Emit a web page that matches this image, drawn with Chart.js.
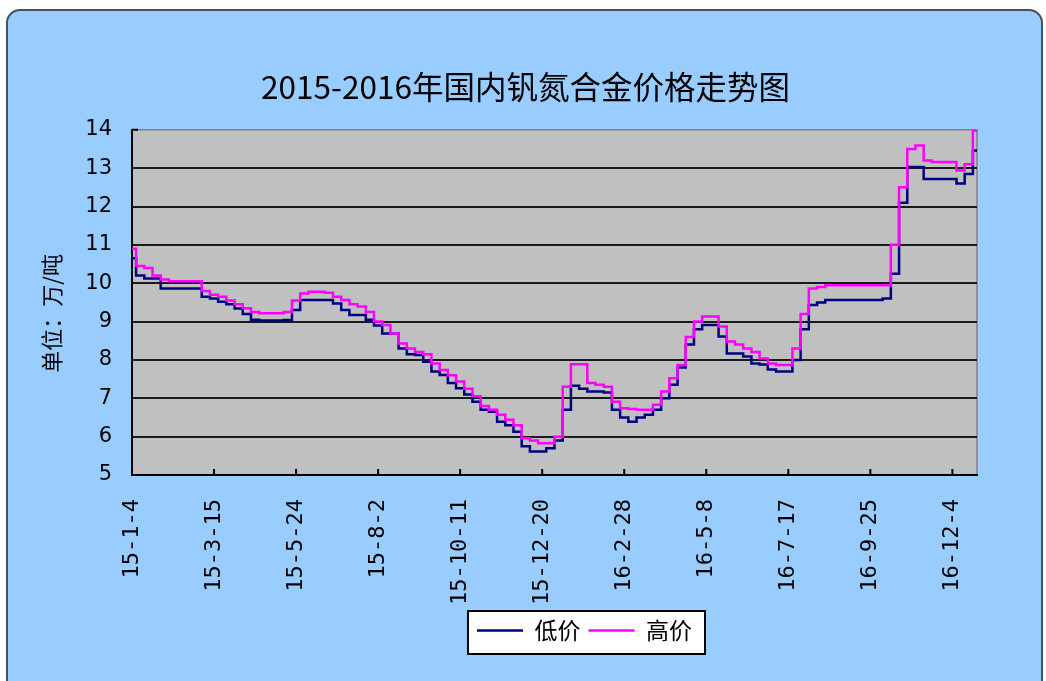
<!DOCTYPE html>
<html>
<head>
<meta charset="utf-8">
<script src="https://cdn.jsdelivr.net/npm/chart.js@4.4.1/dist/chart.umd.min.js"></script>
<style>
  html, body { margin: 0; padding: 0; background: #ffffff; overflow: hidden; }
  #frame { position: absolute; left: 6px; top: 9px; width: 1033px; height: 676px;
           background: #99CCFF; border: 2px solid #46515c; border-radius: 14px 14px 0 0; }
  #c { position: absolute; left: 0; top: 0; }
</style>
</head>
<body>
<div id="frame"></div>
<canvas id="c" width="1046" height="681"></canvas>
<script>
const chartTitle = '2015-2016年国内钒氮合金价格走势图';
const yAxisTitle = '单位：万/吨　';
const seriesNames = ['低价', '高价'];
const labelStep = 10;

const categories = [
  '15-1-4','15-1-11','15-1-18','15-1-25','15-2-1','15-2-8','15-2-15','15-2-22','15-3-1','15-3-8',
  '15-3-15','15-3-22','15-3-29','15-4-5','15-4-12','15-4-19','15-4-26','15-5-3','15-5-10','15-5-17',
  '15-5-24','15-5-31','15-6-7','15-6-14','15-6-21','15-6-28','15-7-5','15-7-12','15-7-19','15-7-26',
  '15-8-2','15-8-9','15-8-16','15-8-23','15-8-30','15-9-6','15-9-13','15-9-20','15-9-27','15-10-4',
  '15-10-11','15-10-18','15-10-25','15-11-1','15-11-8','15-11-15','15-11-22','15-11-29','15-12-6','15-12-13',
  '15-12-20','15-12-27','16-1-3','16-1-10','16-1-17','16-1-24','16-1-31','16-2-7','16-2-14','16-2-21',
  '16-2-28','16-3-6','16-3-13','16-3-20','16-3-27','16-4-3','16-4-10','16-4-17','16-4-24','16-5-1',
  '16-5-8','16-5-15','16-5-22','16-5-29','16-6-5','16-6-12','16-6-19','16-6-26','16-7-3','16-7-10',
  '16-7-17','16-7-24','16-7-31','16-8-7','16-8-14','16-8-21','16-8-28','16-9-4','16-9-11','16-9-18',
  '16-9-25','16-10-2','16-10-9','16-10-16','16-10-23','16-10-30','16-11-6','16-11-13','16-11-20','16-11-27',
  '16-12-4','16-12-11','16-12-18','16-12-25'
];

const lowPrices = [
  10.65, 10.2, 10.12, 10.12, 9.86, 9.86, 9.86, 9.86, 9.86, 9.65,
  9.6, 9.52, 9.45, 9.34, 9.2, 9.05, 9.03, 9.03, 9.03, 9.04,
  9.3, 9.56, 9.56, 9.56, 9.56, 9.47, 9.3, 9.17, 9.17, 9.05,
  8.9, 8.69, 8.69, 8.3, 8.15, 8.13, 7.95, 7.7, 7.61, 7.4,
  7.26, 7.1, 6.91, 6.7, 6.65, 6.39, 6.3, 6.13, 5.75, 5.61,
  5.61, 5.7, 5.9, 6.7, 7.33, 7.25, 7.18, 7.18, 7.15, 6.7,
  6.5, 6.39, 6.5, 6.57, 6.7, 7.0, 7.35, 7.8, 8.4, 8.8,
  8.91, 8.91, 8.61, 8.17, 8.17, 8.09, 7.91, 7.88, 7.75, 7.7,
  7.7, 8.0, 8.8, 9.43, 9.5, 9.56, 9.56, 9.56, 9.56, 9.56,
  9.56, 9.56, 9.6, 10.25, 12.1, 13.03, 13.03, 12.72, 12.72, 12.72,
  12.72, 12.6, 12.85, 13.46
];

const highPrices = [
  10.9, 10.45, 10.4, 10.2, 10.1, 10.05, 10.05, 10.05, 10.05, 9.8,
  9.7, 9.65, 9.55, 9.45, 9.35, 9.25, 9.22, 9.22, 9.22, 9.25,
  9.55, 9.73, 9.78, 9.78, 9.75, 9.65, 9.56, 9.45, 9.39, 9.25,
  9.0, 8.91, 8.69, 8.43, 8.3, 8.21, 8.15, 7.91, 7.74, 7.6,
  7.44, 7.25, 7.05, 6.8, 6.7, 6.57, 6.44, 6.3, 5.96, 5.9,
  5.83, 5.83, 6.0, 7.3, 7.89, 7.89, 7.4, 7.35, 7.3, 6.91,
  6.74, 6.72, 6.7, 6.7, 6.83, 7.18, 7.52, 7.87, 8.6, 9.0,
  9.13, 9.13, 8.87, 8.48, 8.4, 8.3, 8.21, 8.04, 7.91, 7.87,
  7.87, 8.3, 9.2, 9.86, 9.9, 9.95, 9.95, 9.95, 9.95, 9.95,
  9.95, 9.95, 9.95, 11.0, 12.5, 13.5, 13.59, 13.2, 13.16, 13.16,
  13.16, 12.94, 13.1, 13.98
];

const yMin = 5, yMax = 14, yStep = 1;

const decor = {
  id: 'decor',
  afterLayout(chart) {
    const lg = chart.legend;
    lg.left += 78; lg.right += 78;
    const tb = chart.titleBlock;
    if (tb) { tb.left += 19; tb.right += 19; }
  },
  beforeDraw(chart) {
    const {ctx, chartArea: a, legend} = chart;
    ctx.save();
    ctx.fillStyle = '#C0C0C0';
    ctx.fillRect(a.left, a.top, a.right - a.left, a.bottom - a.top);
    ctx.strokeStyle = '#808080';
    ctx.lineWidth = 1.5;
    ctx.strokeRect(a.left, a.top, a.right - a.left, a.bottom - a.top);
    const hb = legend.legendHitBoxes;
    if (hb && hb.length) {
      let l = Infinity, r = -Infinity;
      hb.forEach(h => { l = Math.min(l, h.left); r = Math.max(r, h.left + h.width); });
      const x0 = l - 9, x1 = r + 13, y0 = legend.top, y1 = legend.bottom + 2;
      ctx.fillStyle = '#ffffff';
      ctx.fillRect(x0, y0, x1 - x0, y1 - y0);
      ctx.strokeStyle = '#000000';
      ctx.lineWidth = 2;
      ctx.strokeRect(x0, y0, x1 - x0, y1 - y0);
    }
    ctx.restore();
  },
  beforeDatasetsDraw(chart) {
    const {ctx, chartArea: a, scales} = chart;
    ctx.save();
    ctx.strokeStyle = '#000';
    ctx.lineWidth = 2;
    ctx.beginPath();
    for (let i = 0; i < categories.length; i += labelStep) {
      const x = scales.x.getPixelForValue(i);
      ctx.moveTo(x, a.bottom);
      ctx.lineTo(x, a.bottom - 6);
    }
    const yt = scales.y.getPixelForValue(yMax);
    ctx.moveTo(a.left, yt);
    ctx.lineTo(a.left + 6, yt);
    ctx.stroke();
    ctx.restore();
  }
};

new Chart(document.getElementById('c'), {
  type: 'line',
  data: {
    labels: categories,
    datasets: [
      { label: seriesNames[0], data: lowPrices, borderColor: '#000080', backgroundColor: '#000080',
        borderWidth: 2.5, pointRadius: 0, stepped: 'middle', order: 1 },
      { label: seriesNames[1], data: highPrices, borderColor: '#FF00FF', backgroundColor: '#FF00FF',
        borderWidth: 2.5, pointRadius: 0, stepped: 'middle', order: 0 }
    ]
  },
  options: {
    responsive: false,
    animation: false,
    layout: { padding: { left: 36, right: 69, top: 0, bottom: 29 } },
    plugins: {
      title: {
        display: true, text: chartTitle, color: '#000',
        font: { family: "'Noto Sans CJK SC', sans-serif", size: 31.5, weight: 'normal' },
        padding: { top: 68, bottom: 24 }
      },
      legend: {
        position: 'bottom',
        labels: {
          color: '#000',
          font: { family: "'Noto Sans CJK SC', sans-serif", size: 23 },
          usePointStyle: true, pointStyle: 'line', pointStyleWidth: 46,
          padding: 8,
          sort: (a, b) => a.datasetIndex - b.datasetIndex
        }
      },
      tooltip: { enabled: false }
    },
    scales: {
      x: {
        offset: false,
        grid: { display: false },
        border: { display: true, color: '#000', width: 2 },
        ticks: {
          autoSkip: false, minRotation: 90, maxRotation: 90, padding: 16,
          color: '#000',
          font: { family: "'DejaVu Sans Mono', monospace", size: 22 },
          callback: (v, i) => (i % labelStep === 0 ? categories[i] : '')
        },
        afterFit: (s) => { s.height = 136; }
      },
      y: {
        min: yMin, max: yMax,
        grid: { color: (c) => (c.tick && c.tick.value === yMax ? 'rgba(0,0,0,0)' : '#1a1a1a'),
                lineWidth: 2, drawTicks: false },
        border: { display: true, color: '#000', width: 2 },
        ticks: { stepSize: yStep, padding: 20, color: '#000',
                 font: { family: "'DejaVu Sans', sans-serif", size: 21 } },
        title: { display: true, text: yAxisTitle, color: '#000', padding: { top: 2, bottom: 0 },
                 font: { family: "'Noto Sans CJK SC', sans-serif", size: 22 } },
        afterFit: (s) => { s.width = 96; }
      }
    }
  },
  plugins: [decor]
});
</script>
</body>
</html>
